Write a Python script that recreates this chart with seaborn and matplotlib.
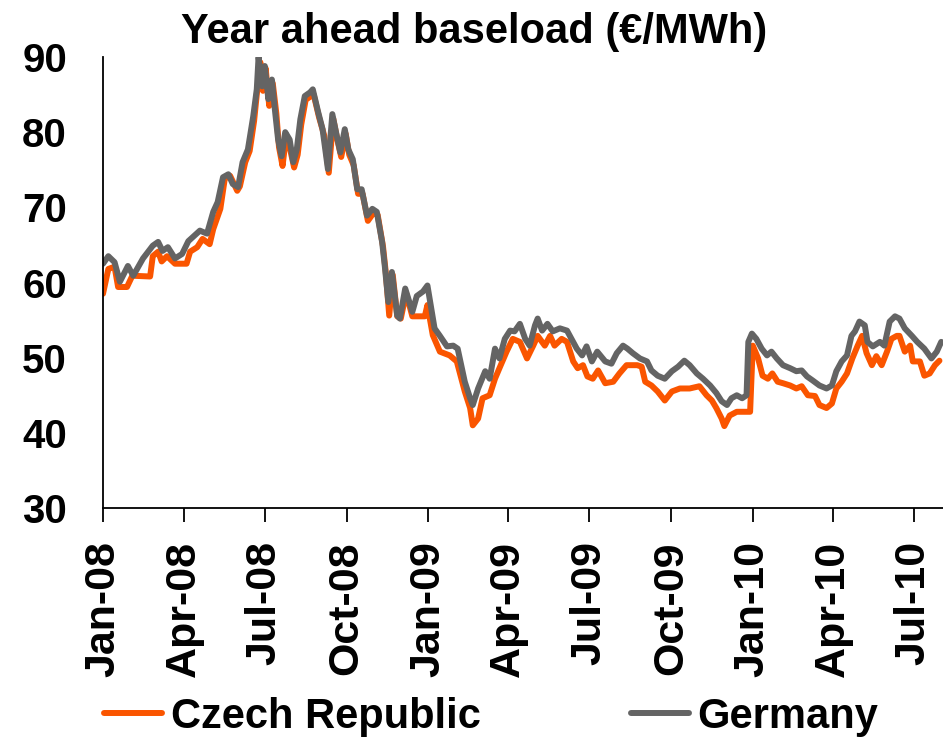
import pandas as pd
import seaborn as sns
import matplotlib.pyplot as plt
import matplotlib.dates as mdates

# dni od 1.1.2008 a cena (EUR/MWh)
start = pd.Timestamp('2008-01-01')

de_day = [0, 6, 13, 19, 28, 34, 45, 56, 62, 67, 73, 81, 89, 96, 109, 117, 124, 129, 135, 141,
          146, 152, 157, 163, 169, 173, 175, 179, 182, 186, 190, 193, 197, 201, 205, 210, 214, 218,
          222, 227, 233, 236, 242, 247, 253, 258, 263, 267, 272, 276, 281, 286, 291, 297, 303, 308,
          314, 317, 321, 325, 331, 334, 340, 348, 353, 360, 365, 373, 379, 387, 394, 399, 407, 413,
          416, 422, 430, 435, 441, 446, 452, 458, 463, 469, 475, 480, 486, 489, 494, 500, 506, 514,
          522, 527, 533, 539, 544, 550, 556, 565, 572, 578, 585, 590, 596, 604, 612, 617, 624, 632,
          640, 647, 654, 660, 668, 675, 683, 690, 696, 702, 707, 713, 719, 724, 726, 730, 735, 741,
          747, 752, 758, 765, 773, 780, 786, 792, 798, 806, 814, 820, 825, 831, 837, 842, 846, 851,
          857, 860, 866, 874, 879, 885, 891, 896, 902, 910, 916, 924, 932, 938, 943]
de_val = [62.5, 63.5, 62.7, 60.1, 62.2, 60.9, 63.2, 64.9, 65.4, 64.2, 64.7, 63.2, 63.8, 65.5, 66.9,
          66.5, 69.4, 70.7, 74.0, 74.4, 73.1, 72.7, 76.0, 77.7, 82.1, 85.7, 90.0, 86.1, 88.8, 84.4,
          87.0, 83.4, 79.0, 76.8, 80.0, 79.0, 76.0, 77.7, 81.7, 84.8, 85.3, 85.7, 82.7, 80.4, 75.1,
          82.4, 79.5, 77.3, 80.4, 77.7, 76.4, 72.4, 72.4, 68.9, 69.8, 69.4, 65.4, 62.2, 57.4, 61.4,
          55.6, 55.2, 59.2, 56.1, 58.2, 58.8, 59.6, 53.9, 52.9, 51.5, 51.6, 51.2, 46.8, 44.6, 43.7,
          45.9, 48.2, 47.2, 51.2, 49.9, 52.5, 53.6, 53.5, 54.5, 52.5, 51.6, 54.3, 55.2, 53.6, 54.5,
          53.5, 53.9, 53.6, 52.5, 51.2, 50.3, 51.5, 49.5, 50.8, 49.5, 49.2, 50.6, 51.6, 51.2, 50.6,
          49.9, 49.5, 48.3, 47.6, 47.2, 48.2, 48.8, 49.6, 49.0, 47.9, 47.2, 46.3, 45.3, 44.2, 43.7,
          44.6, 45.0, 44.6, 45.0, 52.1, 53.2, 52.5, 51.2, 50.3, 50.8, 49.9, 49.0, 48.6, 48.2, 48.3,
          47.5, 47.0, 46.3, 45.9, 46.3, 48.2, 49.5, 50.3, 52.9, 53.5, 54.8, 54.3, 52.1, 51.5, 52.1,
          51.6, 54.8, 55.5, 55.2, 53.9, 52.9, 52.1, 51.2, 49.9, 50.8, 52.1]

cz_day = [0, 6, 13, 17, 27, 33, 53, 56, 62, 66, 72, 81, 94, 98, 106, 112, 120, 124, 132, 137,
          143, 151, 154, 160, 165, 170, 173, 177, 180, 183, 187, 191, 195, 198, 202, 206, 210, 215,
          219, 223, 228, 234, 237, 243, 249, 254, 259, 264, 268, 273, 277, 282, 287, 292, 298, 304,
          309, 315, 318, 322, 326, 331, 335, 341, 348, 362, 365, 371, 379, 390, 398, 407, 413, 416,
          422, 427, 435, 441, 446, 454, 461, 469, 477, 484, 489, 497, 503, 508, 516, 522, 529, 534,
          540, 545, 551, 557, 565, 574, 581, 589, 601, 606, 610, 617, 624, 632, 640, 649, 660, 671,
          679, 685, 690, 696, 699, 705, 713, 728, 731, 737, 742, 748, 753, 759, 765, 773, 780, 786,
          793, 801, 806, 814, 820, 825, 831, 837, 843, 849, 854, 859, 865, 870, 876, 882, 887, 893,
          896, 902, 908, 911, 919, 924, 930, 936, 941]
cz_val = [58.5, 61.8, 62.1, 59.4, 59.4, 60.9, 60.8, 63.5, 64.1, 62.8, 63.5, 62.5, 62.5, 64.1, 64.7,
          65.8, 65.1, 67.1, 69.8, 73.8, 74.2, 72.2, 72.8, 76.0, 77.5, 81.5, 85.0, 89.3, 85.5, 88.5,
          83.5, 86.5, 82.5, 78.0, 75.5, 79.5, 78.0, 75.3, 77.0, 81.0, 84.3, 84.8, 85.0, 82.0, 79.5,
          74.6, 81.8, 78.8, 76.7, 79.8, 77.0, 75.6, 71.8, 71.8, 68.2, 69.2, 69.0, 64.8, 61.5, 55.6,
          61.0, 55.5, 55.2, 58.6, 55.5, 55.5, 57.0, 53.0, 50.8, 50.3, 49.5, 45.5, 43.3, 41.0, 41.9,
          44.6, 45.0, 47.2, 48.6, 50.8, 52.5, 52.1, 49.9, 51.6, 52.9, 51.6, 52.9, 51.6, 52.5, 52.1,
          49.5, 48.6, 49.0, 47.5, 47.2, 48.3, 46.6, 46.8, 47.9, 49.0, 49.0, 48.8, 46.8, 46.3, 45.5,
          44.3, 45.5, 45.9, 45.9, 46.2, 45.0, 44.3, 43.3, 41.9, 40.9, 42.3, 42.8, 42.8, 51.6, 49.9,
          47.6, 47.2, 47.9, 46.8, 46.6, 46.3, 45.9, 46.2, 45.0, 44.9, 43.7, 43.3, 43.9, 45.9, 46.8,
          47.9, 49.9, 51.6, 52.9, 50.6, 49.0, 50.2, 49.0, 50.8, 52.5, 52.9, 52.9, 50.8, 51.6, 49.5,
          49.5, 47.6, 47.9, 49.0, 49.6]

series = ['Czech Republic', 'Germany']
colors = ['#FA5500', '#646464']
title = 'Year ahead baseload (€/MWh)'

df = pd.concat([
    pd.DataFrame({'Date': start + pd.to_timedelta(cz_day, unit='D'), 'Price': cz_val, 'Country': series[0]}),
    pd.DataFrame({'Date': start + pd.to_timedelta(de_day, unit='D'), 'Price': de_val, 'Country': series[1]}),
])

sns.set_style('white')
plt.rcParams['font.family'] = ['Liberation Sans', 'DejaVu Sans']
plt.rcParams['font.weight'] = 'bold'
plt.rcParams['text.color'] = 'black'
plt.rcParams['xtick.color'] = 'black'
plt.rcParams['ytick.color'] = 'black'

fig = plt.figure(figsize=(9.43, 7.4), dpi=100)
ax = fig.add_axes([103 / 943, 1 - 508 / 740, 1 - 103 / 943, (508 - 57) / 740])

sns.lineplot(data=df, x='Date', y='Price', hue='Country', hue_order=series,
             palette=colors, linewidth=4.3, ax=ax)

ax.set_ylim(30, 90)
ax.set_yticks(range(30, 91, 10))
ax.set_xlim(start, start + pd.Timedelta(days=945))
ax.xaxis.set_major_locator(mdates.MonthLocator(bymonth=[1, 4, 7, 10]))
ax.xaxis.set_major_formatter(mdates.DateFormatter('%b-%y'))
ax.set_xlabel('')
ax.set_ylabel('')

for s in ['top', 'right']:
    ax.spines[s].set_visible(False)
for s in ['left', 'bottom']:
    ax.spines[s].set_color('black')
    ax.spines[s].set_linewidth(1.3)

ax.tick_params(axis='y', length=0, pad=26, labelsize=29, labelcolor='black')
ax.tick_params(axis='x', direction='out', length=10, width=1.3, color='black',
               pad=14, labelsize=31, labelrotation=90, bottom=True, labelcolor='black')
for lab in ax.get_xticklabels() + ax.get_yticklabels():
    lab.set_fontweight('bold')

handles, labels = ax.get_legend_handles_labels()
ax.get_legend().remove()
fig.legend(handles, labels, loc='center', bbox_to_anchor=(491 / 943, 1 - 717 / 740),
           ncol=2, frameon=False, handlelength=1.4, handletextpad=0.2, columnspacing=3.6,
           prop={'size': 30, 'weight': 'bold'}, labelcolor='black')

fig.text(474 / 943, 1 - 32 / 740, title, ha='center', va='center', fontsize=30,
         fontweight='bold', color='black')

fig.savefig('out.png', dpi=100)
